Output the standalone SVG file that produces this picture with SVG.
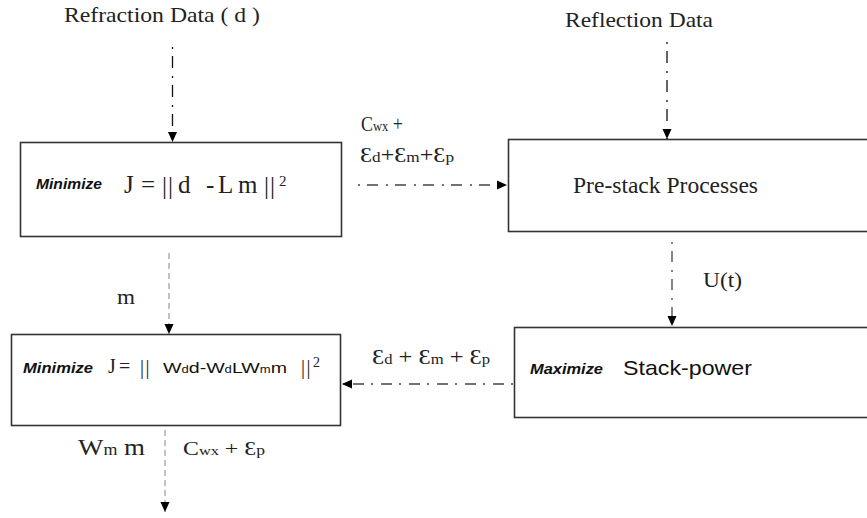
<svg xmlns="http://www.w3.org/2000/svg" width="867" height="518" viewBox="0 0 867 518">
<defs>
<marker id="ah" markerUnits="userSpaceOnUse" markerWidth="10" markerHeight="10" refX="10" refY="5" orient="auto">
<path d="M0,0.5 L10,5 L0,9.5 z" fill="#000"/>
</marker>
<style>
.box{fill:#fff;stroke:#333;stroke-width:1.6}
.serif{font-family:"Liberation Serif","Times New Roman",serif;fill:#222}
.sans{font-family:"Liberation Sans",Arial,sans-serif;fill:#111}
.kw{font-family:"Liberation Sans",Arial,sans-serif;font-weight:bold;font-style:italic;fill:#111}
.dd{fill:none;stroke:#111;stroke-width:1.3;stroke-dasharray:2 7 12 8}
.dh{fill:none;stroke:#444;stroke-width:1.3;stroke-dasharray:2 7 11 8}
.dg{fill:none;stroke:#999;stroke-width:1.2;stroke-dasharray:6 4}
</style>
</defs>
<rect width="867" height="518" fill="#fff"/>

<g id="refraction-data">
<text class="serif" x="64" y="22" font-size="21" textLength="196" lengthAdjust="spacingAndGlyphs">Refraction Data ( d )</text>
</g>

<g id="reflection-data">
<text class="serif" x="565" y="27" font-size="21" textLength="148" lengthAdjust="spacingAndGlyphs">Reflection Data</text>
</g>

<g id="minimize1">
<rect class="box" x="20.5" y="142.5" width="321" height="94"/>
<text class="kw" x="36" y="189" font-size="15" textLength="66" lengthAdjust="spacingAndGlyphs">Minimize</text>
<g class="serif" font-size="25">
<text x="124" y="193">J</text>
<text x="141" y="193">=</text>
<text x="162" y="194" letter-spacing="1">||</text>
<text x="178" y="193">d</text>
<text x="206" y="193">-</text>
<text x="218" y="193">L</text>
<text x="238" y="193">m</text>
<text x="264" y="194" letter-spacing="1">||</text>
<text x="279" y="186" font-size="15">2</text>
</g>
</g>

<g id="prestack">
<rect class="box" x="508.5" y="139.5" width="380" height="92"/>
<text class="serif" x="573" y="193" font-size="23" textLength="185" lengthAdjust="spacingAndGlyphs">Pre-stack Processes</text>
</g>

<g id="minimize2">
<rect class="box" x="11.5" y="334.5" width="329" height="91"/>
<text class="kw" x="23" y="373" font-size="15" textLength="70" lengthAdjust="spacingAndGlyphs">Minimize</text>
<g class="serif" font-size="20">
<text x="108" y="373">J</text>
<text x="119" y="373">=</text>
<text x="140" y="374" letter-spacing="1.5">||</text>
<text x="301" y="374" letter-spacing="1.5">||</text>
<text x="313" y="367" font-size="14">2</text>
</g>
<text class="sans" x="163" y="373" font-size="15" textLength="124" lengthAdjust="spacingAndGlyphs">W<tspan font-size="10">d</tspan>d-W<tspan font-size="10">d</tspan>LW<tspan font-size="10">m</tspan>m</text>
</g>

<g id="stackpower">
<rect class="box" x="514.5" y="327.5" width="380" height="90"/>
<text class="kw" x="530" y="374" font-size="15" textLength="73" lengthAdjust="spacingAndGlyphs">Maximize</text>
<text class="sans" x="623" y="375" font-size="21" textLength="129" lengthAdjust="spacingAndGlyphs">Stack-power</text>
</g>

<g id="connectors">
<line class="dd" x1="172.5" y1="47" x2="172.5" y2="142" marker-end="url(#ah)"/>
<line class="dd" x1="667" y1="42" x2="667" y2="139" marker-end="url(#ah)"/>
<line class="dh" x1="358" y1="185" x2="507" y2="185" marker-end="url(#ah)"/>
<line class="dg" x1="169" y1="253" x2="169" y2="334" marker-end="url(#ah)"/>
<line class="dh" x1="672" y1="242" x2="672" y2="326" marker-end="url(#ah)"/>
<line class="dh" x1="513" y1="384" x2="342" y2="384" marker-end="url(#ah)"/>
<line class="dg" x1="165" y1="430" x2="165" y2="512" marker-end="url(#ah)"/>

<text class="serif" x="361" y="131" font-size="20" textLength="42" lengthAdjust="spacingAndGlyphs">C<tspan font-size="14">wx</tspan> +</text>
<text class="serif" x="360" y="162" font-size="21" textLength="94" lengthAdjust="spacingAndGlyphs">Ɛ<tspan font-size="15">d</tspan>+Ɛ<tspan font-size="15">m</tspan>+Ɛ<tspan font-size="15">p</tspan></text>
<text class="serif" x="703" y="287" font-size="20" textLength="39" lengthAdjust="spacingAndGlyphs">U(t)</text>
<text class="serif" x="117" y="304" font-size="20" textLength="18" lengthAdjust="spacingAndGlyphs">m</text>
<text class="serif" x="372" y="364" font-size="22" textLength="118" lengthAdjust="spacingAndGlyphs">Ɛ<tspan font-size="15">d</tspan> + Ɛ<tspan font-size="15">m</tspan> + Ɛ<tspan font-size="15">p</tspan></text>
<text class="serif" x="78" y="455" font-size="24" textLength="67" lengthAdjust="spacingAndGlyphs">W<tspan font-size="16">m</tspan> m</text>
<text class="serif" x="183" y="455" font-size="19" textLength="82" lengthAdjust="spacingAndGlyphs">C<tspan font-size="13">wx</tspan> + Ɛ<tspan font-size="14">p</tspan></text>
</g>
</svg>
